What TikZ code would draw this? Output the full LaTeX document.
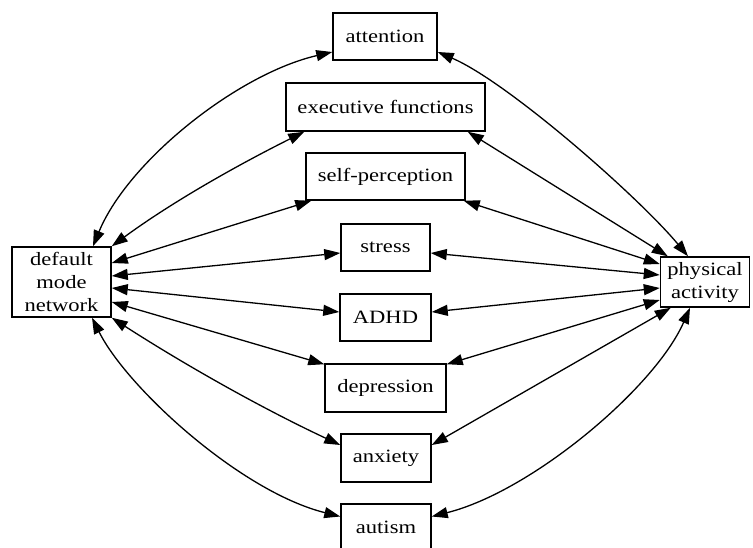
\documentclass[tikz,border=0pt]{standalone}
\usepackage{fontspec}
\setmainfont{Liberation Serif}[FakeStretch=1.2]
\usetikzlibrary{arrows.meta,calc}
\begin{document}
\begin{tikzpicture}[x=1pt,y=-1pt,
  box/.style={draw, line width=1.5pt, inner sep=0pt, align=center,
    font=\fontsize{18.8}{23}\selectfont},
  link/.style={line width=1.3pt,
    {Triangle[length=16pt,width=11pt]}-{Triangle[length=16pt,width=11pt]}}]
\useasboundingbox (0,0) rectangle (753,547);
\clip (0,0) rectangle (753,547);

% outer nodes
\node[box, minimum width=99pt, minimum height=70pt] (dmn) at (61.5,282) {default\\mode\\network};
\node[box, minimum width=89pt, minimum height=50pt] (pa) at (705,282) {physical\\activity};

% middle column
\node[box, minimum width=104pt, minimum height=47pt] (att) at (385,36.5) {attention};
\node[box, minimum width=199pt, minimum height=48pt] (exe) at (385.5,107) {executive functions};
\node[box, minimum width=159pt, minimum height=47pt] (sel) at (385.5,176.5) {self-perception};
\node[box, minimum width=89pt, minimum height=47pt] (str) at (385.5,247.5) {stress};
\node[box, minimum width=91pt, minimum height=47pt] (adhd) at (385.5,317.5) {ADHD};
\node[box, minimum width=121pt, minimum height=48pt] (dep) at (385.5,388) {depression};
\node[box, minimum width=90pt, minimum height=48pt] (anx) at (386,458) {anxiety};
\node[box, minimum width=90pt, minimum height=47pt] (aut) at (386,527.5) {autism};

% links to the default mode network
\draw[link] ($(dmn.north)+(31.5,0)$) .. controls +(35,-85) and +(-95,22) .. ($(att.west)+(0,15.5)$);
\draw[link] (dmn.north east) .. controls +(60,-44) and +(-68,34) .. ($(exe.south west)+(19,0)$);
\draw[link] ($(dmn.east)+(0,-19)$) -- ($(sel.south west)+(6,0)$);
\draw[link] ($(dmn.east)+(0,-6)$) -- ($(str.west)+(0,5.5)$);
\draw[link] ($(dmn.east)+(0,6)$) -- ($(adhd.west)+(0,-5.5)$);
\draw[link] ($(dmn.east)+(0,20)$) -- ($(dep.north west)+(0,1)$);
\draw[link] (dmn.south east) .. controls +(73,47) and +(-79,-37) .. ($(anx.west)+(0,-13)$);
\draw[link] ($(dmn.south)+(30.5,0)$) .. controls +(35,70) and +(-100,-25) .. ($(aut.west)+(0,-11)$);

% links to physical activity
\draw[link] ($(att.east)+(0,15.5)$) .. controls +(70,30) and +(-50,-60) .. ($(pa.north)+(-17,0)$);
\draw[link] ($(exe.south east)+(-18,0)$) -- ($(pa.north west)+(8,0)$);
\draw[link] ($(sel.south east)+(-2,0)$) -- ($(pa.west)+(0,-18)$);
\draw[link] ($(str.east)+(0,5.5)$) -- ($(pa.west)+(0,-7)$);
\draw[link] ($(adhd.east)+(0,-5.5)$) -- ($(pa.west)+(0,6)$);
\draw[link] ($(dep.north east)+(0,1)$) -- ($(pa.west)+(0,18)$);
\draw[link] ($(anx.east)+(0,-13)$) -- ($(pa.south west)+(11,0)$);
\draw[link] ($(aut.east)+(0,-11)$) .. controls +(100,-25) and +(-35,80) .. ($(pa.south)+(-15,0)$);
\end{tikzpicture}
\end{document}
